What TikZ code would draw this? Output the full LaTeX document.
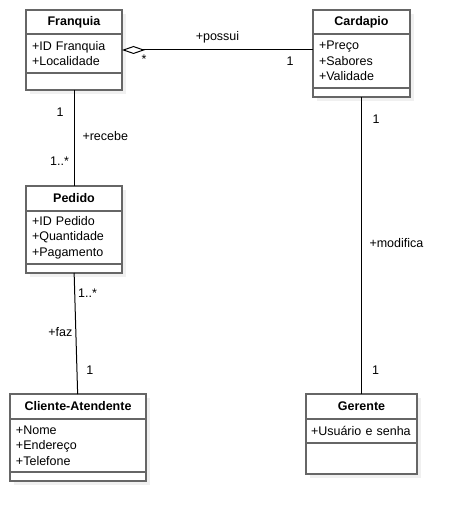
\documentclass[tikz,border=0pt]{standalone}
\usepackage{fontspec}
\setmainfont{Liberation Sans}
\usetikzlibrary{positioning,arrows.meta,shadows}
\definecolor{boxline}{RGB}{102,102,102}
\tikzset{classpart/.style={draw=boxline,line width=1.5pt,fill=white,outer sep=0pt,
		drop shadow={opacity=0.12,shadow xshift=4pt,shadow yshift=-4pt}},
	classhead/.style={classpart,inner sep=0pt,
		font=\bfseries\fontsize{12.5}{15.5}\selectfont},
	classattr/.style={classpart,anchor=north,align=left,inner xsep=6pt,inner ysep=0pt,
		font=\fontsize{12.5}{15.5}\selectfont},
	assoc/.style={draw,line width=1pt},
	mult/.style={inner sep=1pt,font=\fontsize{12.5}{15}\selectfont},
	x=1pt,y=-1pt}

\begin{document}
\begin{tikzpicture}
	\useasboundingbox (0,0) rectangle (463,521);
	\node [classhead,minimum width=96pt,minimum height=24pt] (fraH) at (74,22) {Franquia};
	\node [classattr,minimum width=96pt,text width=84pt,minimum height=39pt,below=0pt of fraH] (fraA) {+ID Franquia\\+Localidade};
	\node [classattr,minimum width=96pt,minimum height=17pt,below=0pt of fraA] (fraM) {};
	
	\node [classhead,minimum width=97pt,minimum height=24pt] (carH) at (361.5,22) {Cardapio};
	\node [classattr,minimum width=97pt,text width=85pt,minimum height=54pt,below=0pt of carH] (carA) {+Preço\\+Sabores\\+Validade};
	\node [classattr,minimum width=97pt,minimum height=9pt,below=0pt of carA] (carM) {};
	
	\node [classhead,minimum width=96pt,minimum height=25pt] (pedH) at (74,198.5) {Pedido};
	\node [classattr,minimum width=96pt,text width=84pt,minimum height=53pt,below=0pt of pedH] (pedA) {+ID Pedido\\+Quantidade\\+Pagamento};
	\node [classattr,minimum width=96pt,minimum height=9pt,below=0pt of pedA] (pedM) {};
	
	\node [classhead,minimum width=136pt,minimum height=25pt] (cliH) at (78,406.5) {Cliente-Atendente};
	\node [classattr,minimum width=136pt,text width=124pt,minimum height=53pt,below=0pt of cliH] (cliA) {+Nome\\+Endereço\\+Telefone};
	\node [classattr,minimum width=136pt,minimum height=9pt,below=0pt of cliA] (cliM) {};
	
	\node [classhead,minimum width=111pt,minimum height=25pt] (gerH) at (361.5,406.5) {Gerente};
	\node [classattr,minimum width=111pt,text width=101pt,inner xsep=5pt,minimum height=24pt,below=0pt of gerH] (gerA) {+Usuário~e~senha};
	\node [classattr,minimum width=111pt,minimum height=31pt,below=0pt of gerA] (gerM) {};
	
	\draw [assoc,{Diamond[open,length=23pt,width=8pt]}-] ([yshift=3.5pt]fraA.east) -- ([yshift=11pt]carA.west)
	node [mult,pos=0.5,above=5pt] (possui) {+possui}
	node [mult,pos=0.115,below=3pt] (fraMult) {*}
	node [mult,pos=0.88,below=5pt] (carMult) {1};
	
	\draw [assoc] (fraM) -- (pedH)
	node [mult,pos=0.23,left=9pt] (fraOne) {1}
	node [mult,pos=0.48,right=7pt] (recebe) {+recebe}
	node [mult,pos=0.74,left=3.5pt] (pedMany) {1..*};
	
	\draw [assoc] (pedM) -- (cliH)
	node [mult,pos=0.17,right=2pt] (pedMany2) {1..*}
	node [mult,pos=0.49,left=2pt] (faz) {+faz}
	node [mult,pos=0.8,right=8pt] (cliOne) {1};
	
	\draw [assoc] (carM) -- (gerH)
	node [mult,pos=0.074,right=9.5pt] (carOne) {1}
	node [mult,pos=0.49,right=6.5pt] (modifica) {+modifica}
	node [mult,pos=0.92,right=9pt] (gerOne) {1};
\end{tikzpicture}
\end{document}
